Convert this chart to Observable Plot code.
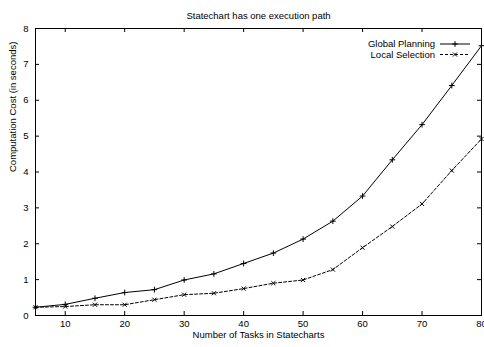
<!DOCTYPE html>
<html>
<head>
<meta charset="utf-8">
<script src="https://cdn.jsdelivr.net/npm/d3@7"></script>
<script src="https://cdn.jsdelivr.net/npm/@observablehq/plot@0.6"></script>
<style>
  html, body { margin: 0; padding: 0; background: #fff; }
  #chart svg { display: block; font-family: "Liberation Sans", Arial, sans-serif; }
</style>
</head>
<body>
<div id="chart"></div>
<script>
const title = "Statechart has one execution path";
const xLabel = "Number of Tasks in Statecharts";
const yLabel = "Computation Cost (in seconds)";
const tasks = [5, 10, 15, 20, 25, 30, 35, 40, 45, 50, 55, 60, 65, 70, 75, 80];
const globalPlanning = [0.23, 0.31, 0.48, 0.64, 0.72, 0.99, 1.16, 1.45, 1.74, 2.13, 2.63, 3.33, 4.34, 5.32, 6.41, 7.52];
const localSelection = [0.23, 0.25, 0.30, 0.30, 0.44, 0.58, 0.62, 0.75, 0.90, 0.99, 1.28, 1.89, 2.48, 3.11, 4.04, 4.92];
const seriesNames = ["Global Planning", "Local Selection"];
const xTicks = [10, 20, 30, 40, 50, 60, 70, 80];
const yTicks = [0, 1, 2, 3, 4, 5, 6, 7, 8];

const rows = [];
tasks.forEach((t, i) => {
  rows.push({x: t, y: globalPlanning[i], s: seriesNames[0]});
  rows.push({x: t, y: localSelection[i], s: seriesNames[1]});
});
const gRows = rows.filter(d => d.s === seriesNames[0]);
const lRows = rows.filter(d => d.s === seriesNames[1]);

const W = 484, H = 347;
const mL = 35, mR = 3, mT = 28, mB = 32;
const xDom = [5, 80], yDom = [0, 8];
const pxX = (xDom[1] - xDom[0]) / (W - mL - mR);
const pxY = (yDom[1] - yDom[0]) / (H - mT - mB);
const tk = 4;

const plot = Plot.plot({
  width: W, height: H,
  marginLeft: mL, marginRight: mR, marginTop: mT, marginBottom: mB,
  style: {fontFamily: '"Liberation Sans", Arial, sans-serif', fontSize: "9.5px", color: "#000", background: "#fff"},
  x: {domain: xDom},
  y: {domain: yDom},
  marks: [
    Plot.frame({stroke: "#000", strokeWidth: 1}),
    // inward ticks on all four sides
    Plot.ruleX(xTicks, {x: d => d, y1: yDom[0], y2: yDom[0] + tk * pxY, stroke: "#000"}),
    Plot.ruleX(xTicks, {x: d => d, y1: yDom[1], y2: yDom[1] - tk * pxY, stroke: "#000"}),
    Plot.ruleY(yTicks, {y: d => d, x1: xDom[0], x2: xDom[0] + tk * pxX, stroke: "#000"}),
    Plot.ruleY(yTicks, {y: d => d, x1: xDom[1], x2: xDom[1] - tk * pxX, stroke: "#000"}),
    Plot.axisX({ticks: xTicks, tickSize: 0, tickPadding: 5, label: null, fill: "#000"}),
    Plot.axisY({ticks: yTicks, tickSize: 0, tickPadding: 7, label: null, fill: "#000"}),
    Plot.text([xLabel], {frameAnchor: "bottom", dy: 22, text: d => d, fill: "#000", fontSize: 9.5}),
    Plot.text([yLabel], {frameAnchor: "left", dx: -23, rotate: -90, text: d => d, fill: "#000", fontSize: 9.5}),
    Plot.text([title], {frameAnchor: "top", dy: -16, text: d => d, fill: "#000", fontSize: 9.5}),
    Plot.line(gRows, {x: "x", y: "y", stroke: "#000", strokeWidth: 1}),
    Plot.line(lRows, {x: "x", y: "y", stroke: "#000", strokeWidth: 1, strokeDasharray: "3,2"}),
    Plot.dot(gRows, {x: "x", y: "y", symbol: "plus", r: 2, stroke: "#000", strokeWidth: 1}),
    Plot.dot(lRows, {x: "x", y: "y", symbol: "times", r: 2, stroke: "#000", strokeWidth: 1})
  ]
});

// legend (top-right, inside frame)
const svg = d3.select(plot);
const leg = svg.append("g").attr("font-family", '"Liberation Sans", Arial, sans-serif').attr("font-size", 9.5);
const symPlus = d3.symbol(d3.symbolPlus, 4 * Math.PI)();
const symTimes = d3.symbol(d3.symbolTimes, 4 * Math.PI)();
seriesNames.forEach((name, i) => {
  const yy = 44 + i * 10.5;
  leg.append("text").attr("x", 435).attr("y", yy).attr("dy", "0.34em").attr("text-anchor", "end").attr("fill", "#000").text(name);
  leg.append("line").attr("x1", 440).attr("x2", 470).attr("y1", yy).attr("y2", yy)
    .attr("stroke", "#000").attr("stroke-width", 1).attr("stroke-dasharray", i === 1 ? "3,2" : null);
  leg.append("path").attr("d", i === 0 ? symPlus : symTimes).attr("transform", `translate(455,${yy})`)
    .attr("fill", "none").attr("stroke", "#000").attr("stroke-width", 1);
});

document.getElementById("chart").appendChild(plot);
</script>
</body>
</html>
